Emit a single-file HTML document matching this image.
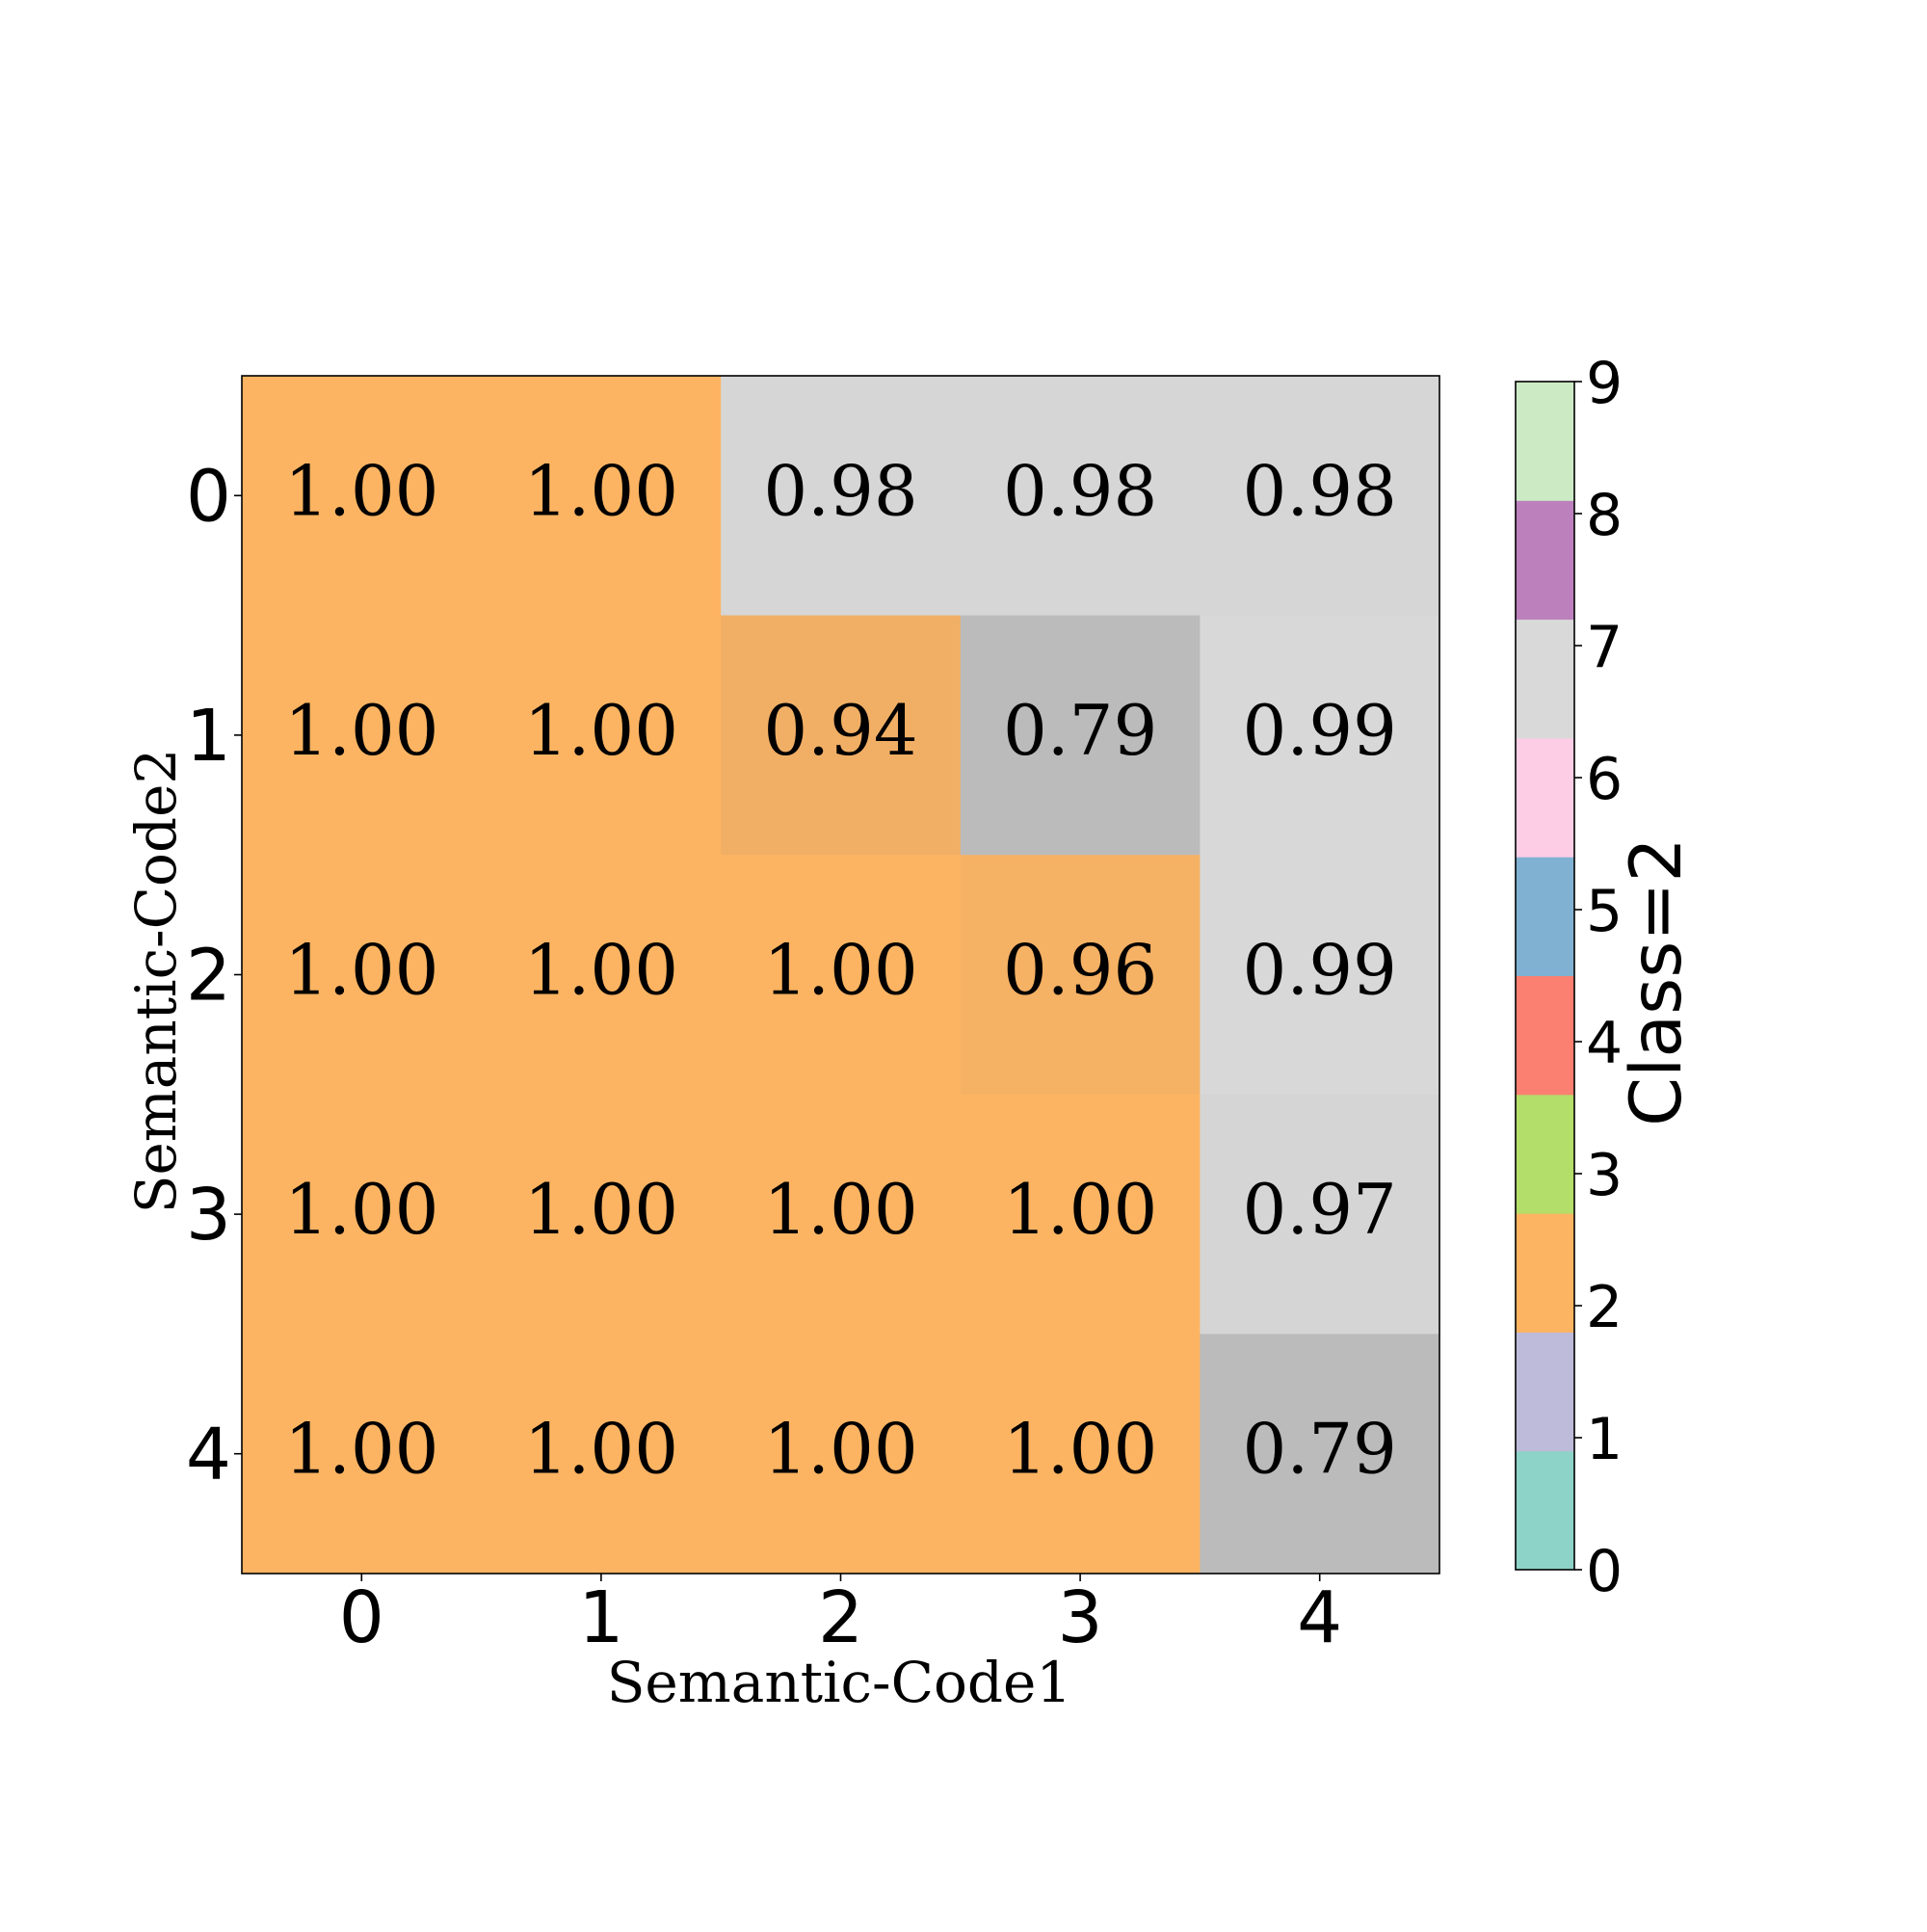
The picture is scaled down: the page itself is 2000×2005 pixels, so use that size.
<!DOCTYPE html>
<html><head><meta charset="utf-8"><style>body{margin:0;background:#fff}</style></head>
<body>
<svg id="chart" width="2000" height="2000" xmlns="http://www.w3.org/2000/svg"></svg>
<script>
const xCategories = ["0","1","2","3","4"];
const yCategories = ["0","1","2","3","4"];
const cellValues = [
 [1.00,1.00,0.98,0.98,0.98],
 [1.00,1.00,0.94,0.79,0.99],
 [1.00,1.00,1.00,0.96,0.99],
 [1.00,1.00,1.00,1.00,0.97],
 [1.00,1.00,1.00,1.00,0.79]
];
const cellClasses = [
 [2,2,7,7,7],
 [2,2,2,7,7],
 [2,2,2,2,7],
 [2,2,2,2,7],
 [2,2,2,2,7]
];
const classTicks = ["0","1","2","3","4","5","6","7","8","9"];
const palette = ["#8dd3c7","#bebada","#fdb462","#b3de69","#fb8072","#80b1d3","#fccde5","#d9d9d9","#bc80bd","#ccebc5"];

const NS="http://www.w3.org/2000/svg";
const svg=document.getElementById('chart');
function mk(tag,attrs,parent){const e=document.createElementNS(NS,tag);for(const k in attrs)e.setAttribute(k,attrs[k]);(parent||svg).appendChild(e);return e;}
const PL=251,PT=390,PW=1243,PH=1243;
const nx=xCategories.length, ny=yCategories.length;
const cw=PW/nx, ch=PH/ny;
const xPos=i=>PL+i*cw, yPos=j=>PT+j*ch;
function shade(hex,v){
  const t=Math.min(1,1.6*(1-v));
  const r=parseInt(hex.substr(1,2),16),g=parseInt(hex.substr(3,2),16),b=parseInt(hex.substr(5,2),16);
  const m=c=>Math.round(c+(128-c)*t);
  return `rgb(${m(r)},${m(g)},${m(b)})`;
}
for(let j=0;j<ny;j++)for(let i=0;i<nx;i++){
  const r=mk('rect',{x:xPos(i),y:yPos(j),width:cw+0.5,height:ch+0.5,fill:shade(palette[cellClasses[j][i]],cellValues[j][i])});
  
  
  const t=mk('text',{x:xPos(i)+cw/2,y:yPos(j)+ch/2+20,'text-anchor':'middle','font-family':'"DejaVu Serif","Liberation Serif",serif','font-size':72,fill:'#000'});
  t.textContent=cellValues[j][i].toFixed(2);
  
  
}
const frame=mk('rect',{x:PL,y:PT,width:PW,height:PH,fill:'none',stroke:'#000','stroke-width':1.6});


for(let i=0;i<nx;i++){
  const cx=xPos(i)+cw/2;
  mk('line',{x1:cx,y1:PT+PH,x2:cx,y2:PT+PH+8,stroke:'#000','stroke-width':1.6});
  const t=mk('text',{x:cx,y:1704,'text-anchor':'middle','font-family':'"DejaVu Sans","Liberation Sans",sans-serif','font-size':74});
  t.textContent=xCategories[i];
  
  
}
for(let j=0;j<ny;j++){
  const cy=yPos(j)+ch/2;
  mk('line',{x1:PL-8,y1:cy,x2:PL,y2:cy,stroke:'#000','stroke-width':1.6});
  const t=mk('text',{x:240,y:cy+26,'text-anchor':'end','font-family':'"DejaVu Sans","Liberation Sans",sans-serif','font-size':74});
  t.textContent=yCategories[j];
  
  
}
const xl=mk('text',{x:871,y:1766,'text-anchor':'middle','font-family':'"DejaVu Serif","Liberation Serif",serif','font-size':58});
xl.textContent='Semantic-Code1';


const yl=mk('text',{x:0,y:0,transform:'translate(182,1018) rotate(-90)','text-anchor':'middle','font-family':'"DejaVu Serif","Liberation Serif",serif','font-size':58});
yl.textContent='Semantic-Code2';


// colorbar
const CL=1573,CT=396,CW=61,CH=1233;
const nSeg=palette.length;
for(let k=0;k<nSeg;k++){
  const r=mk('rect',{x:CL,y:CT+CH-(k+1)*CH/nSeg,width:CW,height:CH/nSeg+0.5,fill:palette[k]});
  
  
}
const cf=mk('rect',{x:CL,y:CT,width:CW,height:CH,fill:'none',stroke:'#000','stroke-width':1.6});


const maxT=classTicks.length-1;
for(let k=0;k<classTicks.length;k++){
  const y=CT+CH-k*CH/maxT;
  mk('line',{x1:CL+CW,y1:y,x2:CL+CW+8,y2:y,stroke:'#000','stroke-width':1.6});
  const t=mk('text',{x:1646,y:y+22,'font-family':'"DejaVu Sans","Liberation Sans",sans-serif','font-size':60});
  t.textContent=classTicks[k];
  
  
}
const cl=mk('text',{x:0,y:0,transform:'translate(1744,1019) rotate(-90)','text-anchor':'middle','font-family':'"DejaVu Sans","Liberation Sans",sans-serif','font-size':73});
cl.textContent='Class=2';


</script>
</body></html>
